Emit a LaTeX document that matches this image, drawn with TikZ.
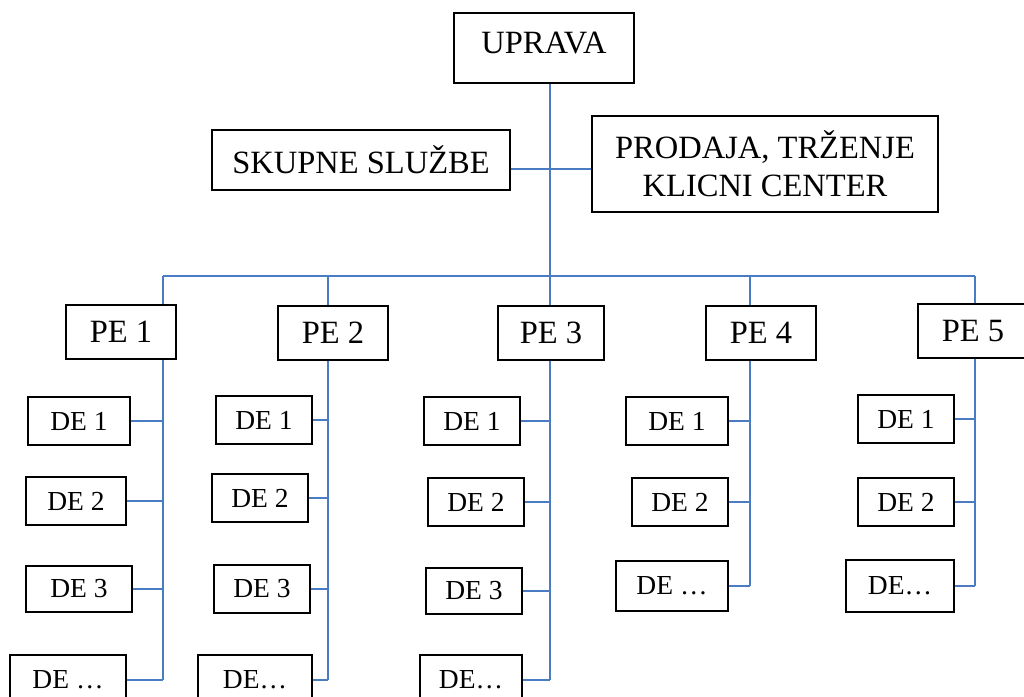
\documentclass[tikz,border=0pt]{standalone}
\usepackage{fontspec}
\setmainfont{Liberation Serif}
\usepackage{xcolor,tikz}
\usetikzlibrary{positioning}
\definecolor{linkblue}{HTML}{4A7CC4}

\begin{document}
\begin{tikzpicture}[x=1pt,y=-1pt,
 box/.style={draw,line width=1.2pt,inner sep=2pt,font=\fontsize{32.5}{38}\selectfont},
 pebox/.style={box,minimum width=110pt,minimum height=54pt},
 debox/.style={draw,line width=1.2pt,inner sep=2pt,minimum width=96pt,minimum height=48pt,font=\fontsize{27.5}{30}\selectfont},
 link/.style={draw=linkblue,line width=1.9pt}]
 \useasboundingbox (0,0) rectangle (1024,696);
 \node[box,minimum width=180pt,minimum height=70pt,text depth=10pt] (upr) at (544,48) {UPRAVA};
 \node[box,minimum width=298pt,minimum height=60pt] (sk) at (361,160) {SKUPNE SLUŽBE};
 \node[box,align=center,minimum width=346pt,minimum height=96pt] (pr) at (765,164) {PRODAJA, TRŽENJE\\KLICNI CENTER};
 % poslovne enote
 \node[pebox] (pe1) at (121,332) {PE 1};
 \node[pebox] (pe2) at (333,333) {PE 2};
 \node[pebox,minimum width=106pt] (pe3) at (551,333) {PE 3};
 \node[pebox] (pe4) at (761,333) {PE 4};
 \node[pebox] (pe5) at (973,331) {PE 5};
 % delovne enote
 \node[debox,minimum width=102pt] (de11) at (79,421) {DE 1};
 \node[debox,minimum width=100pt] (de12) at (76,501) {DE 2};
 \node[debox,minimum width=106pt,minimum height=46pt] (de13) at (79,589) {DE 3};
 \node[debox,minimum width=116pt,minimum height=50pt] (de14) at (68,680) {DE …};
 \node[debox] (de21) at (264,420) {DE 1};
 \node[debox] (de22) at (260,498) {DE 2};
 \node[debox] (de23) at (262,589) {DE 3};
 \node[debox,minimum width=114pt,minimum height=50pt] (de24) at (255,680) {DE…};
 \node[debox] (de31) at (472,421) {DE 1};
 \node[debox] (de32) at (476,502) {DE 2};
 \node[debox,minimum height=46pt] (de33) at (474,591) {DE 3};
 \node[debox,minimum width=102pt,minimum height=50pt] (de34) at (471,680) {DE…};
 \node[debox,minimum width=102pt] (de41) at (677,421) {DE 1};
 \node[debox] (de42) at (680,502) {DE 2};
 \node[debox,minimum width=112pt,minimum height=50pt] (de44) at (672,586) {DE …};
 \node[debox] (de51) at (906,419) {DE 1};
 \node[debox] (de52) at (906,502) {DE 2};
 \node[debox,minimum width=108pt,minimum height=52pt] (de54) at (900,586) {DE…};
 % povezave
 \coordinate (s1) at (163,276);\coordinate (s2) at (328,276);\coordinate (s3) at (550,276);
 \coordinate (s4) at (750,276);\coordinate (s5) at (975,276);\coordinate (mid) at (550,169);
 \draw[link] (s3 |- upr.south)--(s3 |- pe3.north);
 \draw[link] (mid -| sk.east)--(mid -| pr.west);
 \draw[link] (s1)--(s5);
 \draw[link] (s1)--(s1 |- pe1.north);\draw[link] (s2)--(s2 |- pe2.north);
 \draw[link] (s4)--(s4 |- pe4.north);\draw[link] (s5)--(s5 |- pe5.north);
 \draw[link] (s1 |- pe1.south)--(s1 |- de14.east);\draw[link] (s2 |- pe2.south)--(s2 |- de24.east);
 \draw[link] (s3 |- pe3.south)--(s3 |- de34.east);\draw[link] (s4 |- pe4.south)--(s4 |- de44.east);
 \draw[link] (s5 |- pe5.south)--(s5 |- de54.east);
 \draw[link] (de11.east)--(de11.east -| s1);\draw[link] (de12.east)--(de12.east -| s1);
 \draw[link] (de13.east)--(de13.east -| s1);\draw[link] (de14.east)--(de14.east -| s1);
 \draw[link] (de21.east)--(de21.east -| s2);\draw[link] (de22.east)--(de22.east -| s2);
 \draw[link] (de23.east)--(de23.east -| s2);\draw[link] (de24.east)--(de24.east -| s2);
 \draw[link] (de31.east)--(de31.east -| s3);\draw[link] (de32.east)--(de32.east -| s3);
 \draw[link] (de33.east)--(de33.east -| s3);\draw[link] (de34.east)--(de34.east -| s3);
 \draw[link] (de41.east)--(de41.east -| s4);\draw[link] (de42.east)--(de42.east -| s4);
 \draw[link] (de44.east)--(de44.east -| s4);
 \draw[link] (de51.east)--(de51.east -| s5);\draw[link] (de52.east)--(de52.east -| s5);
 \draw[link] (de54.east)--(de54.east -| s5);
\end{tikzpicture}
\end{document}
